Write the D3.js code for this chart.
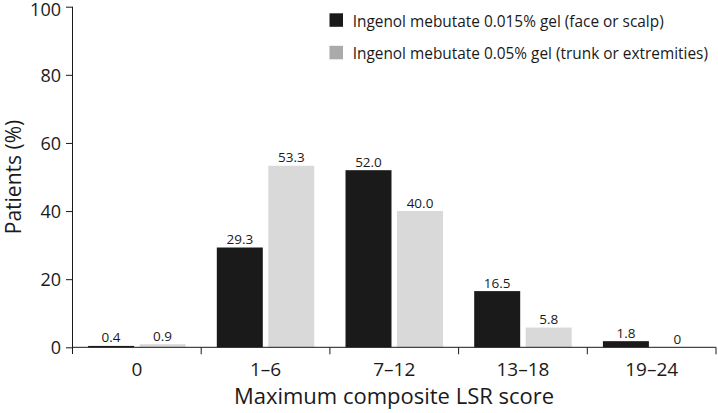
<!DOCTYPE html>
<html><head><meta charset="utf-8">
<script src="https://cdn.jsdelivr.net/npm/d3@7"></script>
<style>body{margin:0;background:#fff}svg{display:block}text{font-family:"Open Sans",sans-serif;fill:#1a1a1a}</style>
</head><body>
<svg id="c" width="718" height="413"></svg>
<script>
const categories = ["0", "1\u20136", "7\u201312", "13\u201318", "19\u201324"];
const seriesNames = ["Ingenol mebutate 0.015% gel (face or scalp)", "Ingenol mebutate 0.05% gel (trunk or extremities)"];
const faceScalp = [0.4, 29.3, 52.0, 16.5, 1.8];
const trunkExtremities = [0.9, 53.3, 40.0, 5.8, 0];
const yTicks = [0, 20, 40, 60, 80, 100];

const series = [faceScalp, trunkExtremities];
const barColors = ["#1a1a1a", "#d9d9d9"];
const legendColors = ["#1a1a1a", "#aaaaaa"];
const fmt = v => v === 0 ? "0" : v.toFixed(1);

const svg = d3.select("#c");
const x = d3.scaleBand().domain(categories).range([72.5, 716]).paddingInner(0).paddingOuter(0);
const xs = d3.scaleBand().domain([0, 1]).range([0, x.bandwidth()]).paddingInner(0.107).paddingOuter(0.303);
const y = d3.scaleLinear().domain([0, 100]).range([347.3, 6.7]);

// bars
categories.forEach((c, i) => {
  series.forEach((s, k) => {
    const v = s[i];
    const bx = x(c) + xs(k);
    svg.append("rect").attr("x", bx).attr("y", y(v)).attr("width", xs.bandwidth())
      .attr("height", y(0) - y(v)).attr("fill", barColors[k]);
    svg.append("text").attr("x", bx + xs.bandwidth() / 2).attr("y", y(v) - 3.5)
      .attr("text-anchor", "middle").attr("font-size", 13.5).text(fmt(v));
  });
});

// y axis
const ya = svg.append("g").attr("transform", "translate(72.5,0)")
  .call(d3.axisLeft(y).tickValues(yTicks).tickSize(6.5).tickPadding(5));
ya.select(".domain").remove();
ya.append("line").attr("x1", 0).attr("x2", 0).attr("y1", 6.7).attr("y2", 354).attr("stroke", "#1a1a1a");
ya.selectAll(".tick line").attr("stroke", "#1a1a1a");
ya.selectAll(".tick text").attr("font-size", 18).attr("font-family", "'Open Sans', sans-serif").attr("fill", "#1a1a1a")
  .attr("dy", d => d === 100 ? "0.5em" : "0.36em");

// x axis
const xa = svg.append("g").attr("transform", "translate(0,347.3)");
xa.append("line").attr("x1", 72.5).attr("x2", 716).attr("stroke", "#1a1a1a");
const edges = categories.map(c => x(c) + x.bandwidth());
xa.selectAll(".tk").data(edges).join("line").attr("x1", d => d).attr("x2", d => d)
  .attr("y1", 0).attr("y2", 7).attr("stroke", "#1a1a1a");
xa.selectAll(".lbl").data(categories).join("text")
  .attr("x", d => x(d) + x.bandwidth() / 2).attr("y", 28.7).attr("text-anchor", "middle")
  .attr("font-size", 19).text(d => d);

// axis titles
svg.append("text").attr("x", 394).attr("y", 404).attr("text-anchor", "middle")
  .attr("font-size", 22).text("Maximum composite LSR score");
svg.append("text").attr("transform", "translate(21,177) rotate(-90)").attr("text-anchor", "middle")
  .attr("font-size", 21).text("Patients (%)");

// legend
seriesNames.forEach((n, k) => {
  const top = 13.3 + k * 32.5;
  svg.append("rect").attr("x", 329.5).attr("y", top).attr("width", 13.5).attr("height", 13.5).attr("fill", legendColors[k]);
  svg.append("text").attr("x", 352.7).attr("y", top + 13.6).attr("font-size", 15.4).text(n);
});
</script>
</body></html>
